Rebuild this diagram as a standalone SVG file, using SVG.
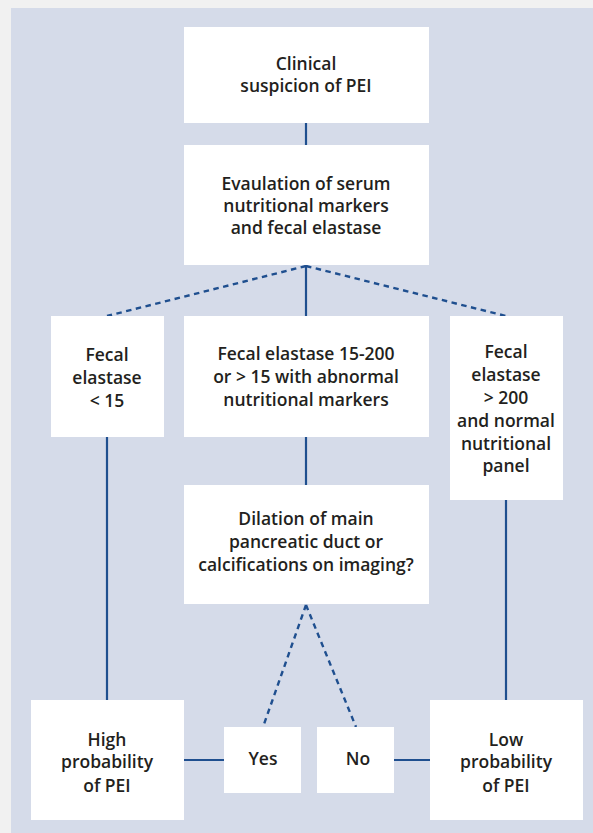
<svg xmlns="http://www.w3.org/2000/svg" width="593" height="833" viewBox="0 0 593 833">
<style>
.box{fill:#ffffff}
.t{font-family:"Open Sans","Liberation Sans",sans-serif;font-weight:600;font-size:17.5px;fill:#231f20;text-anchor:middle}
.ln{stroke:#1f4f8f;stroke-width:2.2;fill:none}
.ds{stroke:#1f4f8f;stroke-width:2.4;fill:none;stroke-dasharray:5.5 4.5}
</style>
<rect x="0" y="0" width="593" height="833" fill="#f1f1f1"/>
<rect x="11" y="8" width="582" height="825" fill="#d5dbe9"/>
<g id="connectors">
<line class="ln" x1="306" y1="123" x2="306" y2="145"/>
<line class="ln" x1="306" y1="265" x2="306" y2="316"/>
<line class="ds" x1="306" y1="266" x2="107" y2="316"/>
<line class="ds" x1="306" y1="266" x2="506" y2="316"/>
<line class="ln" x1="107" y1="437" x2="107" y2="700"/>
<line class="ln" x1="306" y1="437" x2="306" y2="485"/>
<line class="ln" x1="506" y1="500" x2="506" y2="700"/>
<line class="ds" x1="306" y1="605" x2="263" y2="727"/>
<line class="ds" x1="306" y1="605" x2="356" y2="727"/>
<line class="ln" x1="184" y1="760" x2="224" y2="760"/>
<line class="ln" x1="394" y1="760" x2="430" y2="760"/>
</g>
<g id="n1"><rect class="box" x="184" y="27" width="245" height="96"/>
<text class="t" x="306" y="70">Clinical</text><text class="t" x="306" y="92">suspicion of PEI</text></g>
<g id="n2"><rect class="box" x="184" y="145" width="245" height="120"/>
<text class="t" x="306" y="190">Evaulation of serum</text><text class="t" x="306" y="212">nutritional markers</text><text class="t" x="306" y="234">and fecal elastase</text></g>
<g id="n3"><rect class="box" x="51" y="316" width="113" height="121"/>
<text class="t" x="107" y="361">Fecal</text><text class="t" x="107" y="384">elastase</text><text class="t" x="107" y="407">&lt; 15</text></g>
<g id="n4"><rect class="box" x="184" y="316" width="245" height="121"/>
<text class="t" x="306" y="360">Fecal elastase 15-200</text><text class="t" x="306" y="383">or &gt; 15 with abnormal</text><text class="t" x="306" y="406">nutritional markers</text></g>
<g id="n5"><rect class="box" x="450" y="316" width="113" height="184"/>
<text class="t" x="506" y="358">Fecal</text><text class="t" x="506" y="381">elastase</text><text class="t" x="506" y="404">&gt; 200</text><text class="t" x="506" y="427">and normal</text><text class="t" x="506" y="450">nutritional</text><text class="t" x="506" y="472">panel</text></g>
<g id="n6"><rect class="box" x="184" y="485" width="245" height="119"/>
<text class="t" x="306" y="525">Dilation of main</text><text class="t" x="306" y="548">pancreatic duct or</text><text class="t" x="306" y="571">calcifications on imaging?</text></g>
<g id="n7"><rect class="box" x="31" y="700" width="153" height="120"/>
<text class="t" x="107" y="746">High</text><text class="t" x="107" y="768">probability</text><text class="t" x="107" y="792">of PEI</text></g>
<g id="n8"><rect class="box" x="224" y="727" width="77" height="66"/>
<text class="t" x="263" y="765">Yes</text></g>
<g id="n9"><rect class="box" x="317" y="727" width="77" height="66"/>
<text class="t" x="358" y="765">No</text></g>
<g id="n10"><rect class="box" x="430" y="700" width="153" height="120"/>
<text class="t" x="506" y="746">Low</text><text class="t" x="506" y="768">probability</text><text class="t" x="506" y="792">of PEI</text></g>
</svg>
